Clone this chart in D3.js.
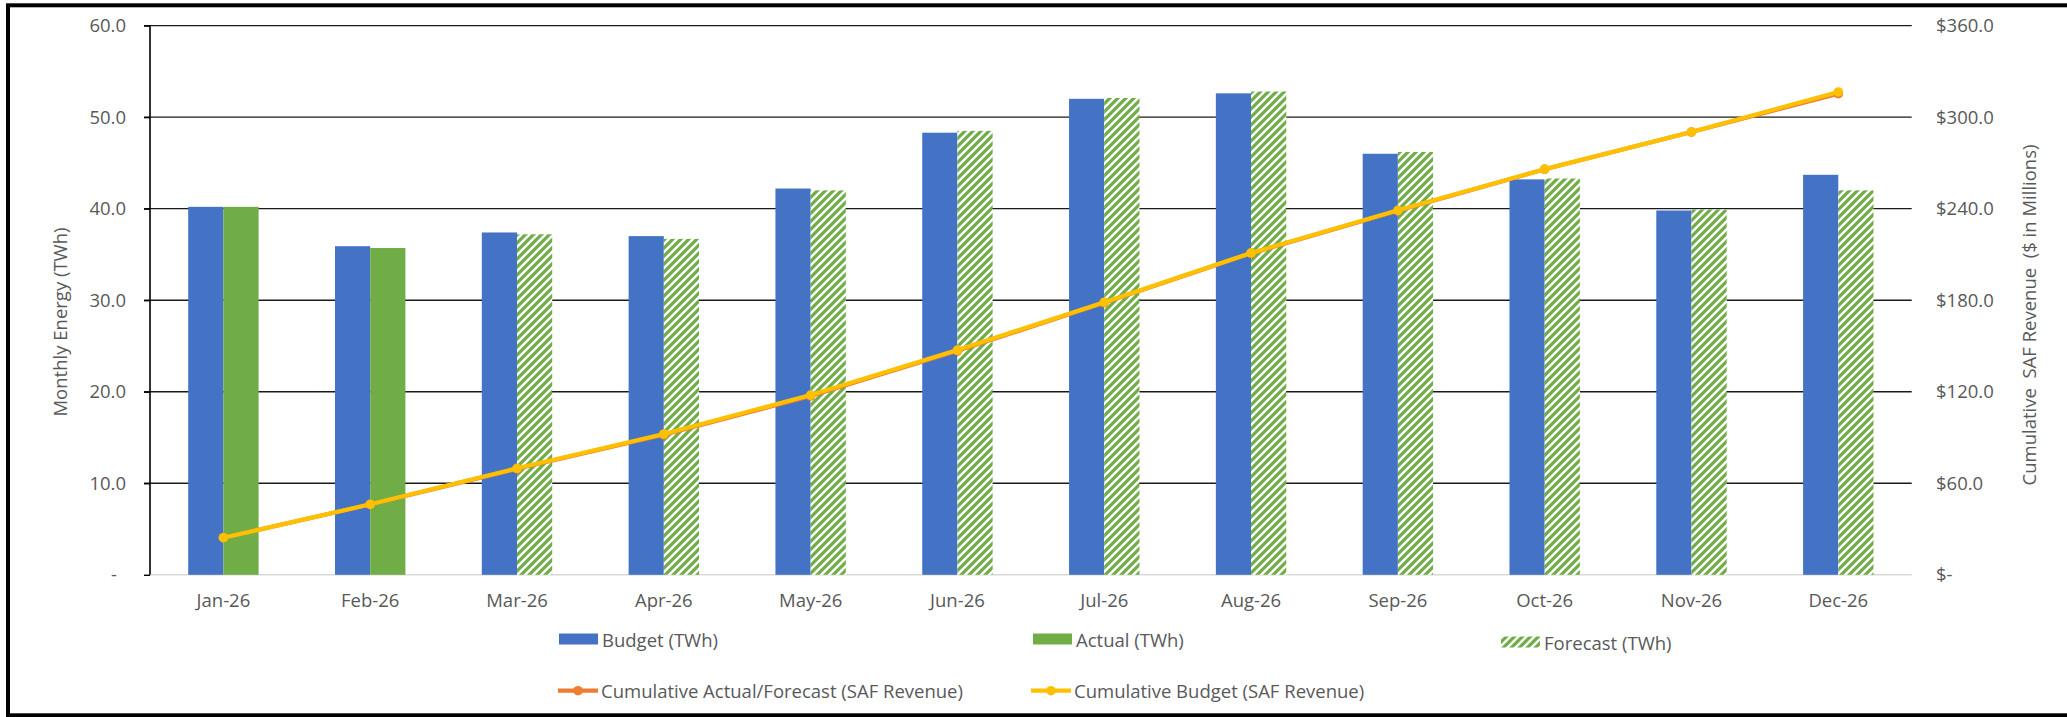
<!DOCTYPE html>
<html>
<head>
<meta charset="utf-8">
<script src="https://cdn.jsdelivr.net/npm/d3@7"></script>
<style>
  html, body { margin: 0; padding: 0; background: #fff; }
  svg { display: block; font-family: "Open Sans", "Noto Sans", sans-serif; }
</style>
</head>
<body>
<svg id="chart" width="2067" height="717"></svg>
<script>
// ---- Data ----
const months = ["Jan-26","Feb-26","Mar-26","Apr-26","May-26","Jun-26","Jul-26","Aug-26","Sep-26","Oct-26","Nov-26","Dec-26"];
const budgetTWh   = [40.2, 35.9, 37.4, 37.0, 42.2, 48.3, 52.0, 52.6, 46.0, 43.2, 39.8, 43.7];
const actualTWh   = [40.2, 35.7, null, null, null, null, null, null, null, null, null, null];
const forecastTWh = [null, null, 37.2, 36.7, 42.0, 48.5, 52.1, 52.8, 46.2, 43.3, 39.9, 42.0];
const cumActualForecastRev = [24.3, 46.1, 69.5, 91.8, 117.2, 146.8, 178.3, 210.7, 238.7, 265.8, 290.2, 315.4];
const cumBudgetRev         = [24.3, 46.2, 69.8, 92.3, 117.8, 147.3, 178.7, 211.0, 238.9, 265.9, 290.3, 316.5];
const leftTicks  = [0, 10, 20, 30, 40, 50, 60];
const rightTicks = [0, 60, 120, 180, 240, 300, 360];
const leftTitle  = "Monthly Energy (TWh)";
const rightTitle = "Cumulative  SAF Revenue  ($ in Millions)";
const legendNames = ["Budget (TWh)", "Actual (TWh)", "Forecast (TWh)",
                     "Cumulative Actual/Forecast (SAF Revenue)", "Cumulative Budget (SAF Revenue)"];

// ---- Styles ----
const C = { budget: "#4472C4", actual: "#70AD47", orange: "#ED7D31", yellow: "#FFC000", text: "#595959" };
const plot = { left: 150, right: 1911.7, top: 25.6, bottom: 574.8 };

const svg = d3.select("#chart");
svg.append("rect").attr("width", 2067).attr("height", 717).attr("fill", "#fff");

// hatch pattern
const defs = svg.append("defs");
const pat = defs.append("pattern").attr("id", "hatch").attr("patternUnits", "userSpaceOnUse")
  .attr("width", 8).attr("height", 8);
pat.append("rect").attr("width", 8).attr("height", 8).attr("fill", "#fff");
pat.append("path").attr("d", "M-2,2 L2,-2 M0,8 L8,0 M6,10 L10,6")
  .attr("stroke", C.actual).attr("stroke-width", 3.2).attr("fill", "none");

// outer border (no right edge visible)
svg.append("rect").attr("x", 8).attr("y", 5.3).attr("width", 2120).attr("height", 710)
  .attr("fill", "none").attr("stroke", "#000").attr("stroke-width", 4);

// ---- Scales ----
const x = d3.scaleBand().domain(months).range([plot.left, plot.right]).padding(0);
const bw = x.bandwidth();
const barW = 35.2;
const x1 = d3.scaleBand().domain(["budget", "af"]).range([bw / 2 - barW, bw / 2 + barW]);
const yL = d3.scaleLinear().domain([0, 60]).range([plot.bottom, plot.top]);
const yR = d3.scaleLinear().domain([0, 360]).range([plot.bottom, plot.top]);

// gridlines
svg.append("g").selectAll("line").data(leftTicks.filter(d => d > 0)).join("line")
  .attr("x1", plot.left - 6).attr("x2", plot.right)
  .attr("y1", d => yL(d)).attr("y2", d => yL(d))
  .attr("stroke", "#1a1a1a").attr("stroke-width", 1.4);

// baseline
svg.append("line").attr("x1", plot.left).attr("x2", plot.right)
  .attr("y1", yL(0)).attr("y2", yL(0)).attr("stroke", "#d9d9d9").attr("stroke-width", 1.5);

// ---- Bars ----
const gBars = svg.append("g");
gBars.selectAll("rect.b").data(months).join("rect").attr("class", "b")
  .attr("x", d => x(d) + x1("budget")).attr("width", x1.bandwidth())
  .attr("y", (d, i) => yL(budgetTWh[i])).attr("height", (d, i) => yL(0) - yL(budgetTWh[i]))
  .attr("fill", C.budget);
gBars.selectAll("rect.a").data(months.filter((d, i) => actualTWh[i] != null)).join("rect").attr("class", "a")
  .attr("x", d => x(d) + x1("af")).attr("width", x1.bandwidth())
  .attr("y", d => yL(actualTWh[months.indexOf(d)]))
  .attr("height", d => yL(0) - yL(actualTWh[months.indexOf(d)]))
  .attr("fill", C.actual);
gBars.selectAll("rect.f").data(months.filter((d, i) => forecastTWh[i] != null)).join("rect").attr("class", "f")
  .attr("x", d => x(d) + x1("af")).attr("width", x1.bandwidth())
  .attr("y", d => yL(forecastTWh[months.indexOf(d)]))
  .attr("height", d => yL(0) - yL(forecastTWh[months.indexOf(d)]))
  .attr("fill", "url(#hatch)");

// ---- Axes ----
const axL = svg.append("g").attr("transform", `translate(${plot.left},0)`)
  .call(d3.axisLeft(yL).tickValues(leftTicks).tickSize(6).tickPadding(18)
    .tickFormat(d => d === 0 ? "-" : d3.format(".1f")(d)));
axL.select(".domain").attr("stroke", "#000").attr("stroke-width", 1.6).attr("d", `M0,${plot.top}V${plot.bottom}`);
axL.selectAll(".tick line").attr("stroke", "#000").attr("stroke-width", 1.4);
axL.selectAll(".tick text").attr("fill", C.text).attr("font-size", 18.5)
  .attr("font-family", '"Open Sans", sans-serif');
axL.selectAll(".tick text").filter(d => d === 0).attr("dx", -9);

const axR = svg.append("g").attr("transform", `translate(${plot.right},0)`)
  .call(d3.axisRight(yR).tickValues(rightTicks).tickSize(0).tickPadding(24.3)
    .tickFormat(d => d === 0 ? "$-" : "$" + d3.format(".1f")(d)));
axR.select(".domain").remove();
axR.selectAll(".tick text").attr("fill", C.text).attr("font-size", 18.5)
  .attr("font-family", '"Open Sans", sans-serif');

const axB = svg.append("g").attr("transform", `translate(0,${plot.bottom})`)
  .call(d3.axisBottom(x).tickSize(0).tickPadding(19));
axB.select(".domain").remove();
axB.selectAll(".tick text").attr("fill", C.text).attr("font-size", 18.5)
  .attr("font-family", '"Open Sans", sans-serif');

// axis titles
svg.append("text").attr("transform", "translate(59,322) rotate(-90)")
  .attr("text-anchor", "middle").attr("dominant-baseline", "central")
  .attr("fill", C.text).attr("font-size", 18.5).text(leftTitle);
svg.append("text").attr("transform", "translate(2028,315) rotate(-90)")
  .attr("text-anchor", "middle").attr("dominant-baseline", "central")
  .attr("xml:space", "preserve").style("white-space", "pre")
  .attr("fill", C.text).attr("font-size", 18.5).text(rightTitle);

// ---- Lines ----
const cx = d => x(d) + bw / 2;
function drawLine(vals, color) {
  const g = svg.append("g");
  const line = d3.line().x((d, i) => cx(months[i])).y(d => yR(d));
  g.append("path").datum(vals).attr("d", line).attr("fill", "none")
    .attr("stroke", color).attr("stroke-width", 4.2).attr("stroke-linejoin", "round").attr("stroke-linecap", "round");
  g.selectAll("circle").data(vals).join("circle")
    .attr("cx", (d, i) => cx(months[i])).attr("cy", d => yR(d)).attr("r", 4.8).attr("fill", color);
}
drawLine(cumActualForecastRev, C.orange);
drawLine(cumBudgetRev, C.yellow);

// ---- Legend ----
const lg = svg.append("g").attr("font-size", 18.5).attr("fill", C.text);
const legendItems = [
  { name: legendNames[0], type: "rect", fill: C.budget, x: 559, y: 639 },
  { name: legendNames[1], type: "rect", fill: C.actual, x: 1033, y: 639 },
  { name: legendNames[2], type: "rect", fill: "url(#hatch)", x: 1501, y: 642 },
  { name: legendNames[3], type: "line", fill: C.orange, x: 558, y: 690.7 },
  { name: legendNames[4], type: "line", fill: C.yellow, x: 1031, y: 690.7 }
];
legendItems.forEach(it => {
  const g = lg.append("g").attr("transform", `translate(${it.x},${it.y})`);
  if (it.type === "rect") {
    g.append("rect").attr("x", 0).attr("y", -5.5).attr("width", 39).attr("height", 11).attr("fill", it.fill);
  } else {
    g.append("line").attr("x1", 0).attr("x2", 40).attr("y1", 0).attr("y2", 0)
      .attr("stroke", it.fill).attr("stroke-width", 4.2);
    g.append("circle").attr("cx", 20).attr("cy", 0).attr("r", 4.8).attr("fill", it.fill);
  }
  g.append("text").attr("x", 43).attr("y", 0).attr("dominant-baseline", "central").text(it.name);
});
</script>
</body>
</html>
